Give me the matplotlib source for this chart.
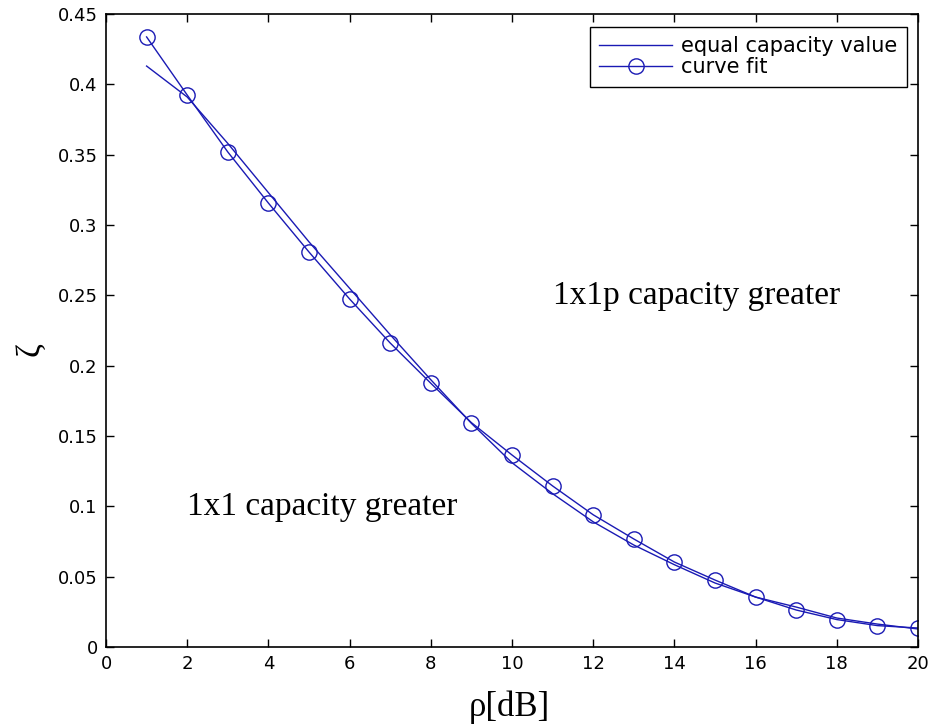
import numpy as np
import matplotlib
matplotlib.use("Agg")
import matplotlib.pyplot as plt

# SNR grid in dB
rho_db = np.arange(1, 21)

# threshold where both schemes give the same capacity
equal_capacity = [0.413, 0.391, 0.358, 0.323, 0.288, 0.255, 0.222, 0.190, 0.159, 0.131,
                  0.109, 0.089, 0.0725, 0.0585, 0.0455, 0.0355, 0.0284, 0.0206, 0.0163, 0.0128]

# polynomial fit of the threshold
curve_fit = [0.4337, 0.3924, 0.3519, 0.3156, 0.2808, 0.2474, 0.2161, 0.1875, 0.1595, 0.1365,
             0.1145, 0.0940, 0.0768, 0.0604, 0.0476, 0.0355, 0.0263, 0.0195, 0.0152, 0.0135]

blue = "#1a1ab4"

fig = plt.figure(figsize=(9.32, 7.27), dpi=100)
ax = fig.add_axes([106 / 932, 1 - 647 / 727, 812 / 932, 633 / 727])

ax.plot(rho_db, equal_capacity, color=blue, lw=1.0, label="equal capacity value")
ax.plot(rho_db, curve_fit, color=blue, lw=1.0, marker="o", ms=11, mfc="none",
        mec=blue, mew=1.0, label="curve fit")

ax.set_xlim(0, 20)
ax.set_ylim(0, 0.45)
ax.set_xticks(np.arange(0, 21, 2))
ax.set_yticks(np.arange(0, 0.451, 0.05))
ax.set_yticklabels(["0", "0.05", "0.1", "0.15", "0.2", "0.25", "0.3", "0.35", "0.4", "0.45"])

ax.tick_params(direction="in", length=6, width=1.0, top=True, right=True,
               labelsize=13, pad=6)
for s in ax.spines.values():
    s.set_linewidth(1.2)

ax.text(2, 0.1, "1x1 capacity greater", family="Liberation Serif", fontsize=24, va="center")
ax.text(11, 0.25, "1x1p capacity greater", family="Liberation Serif", fontsize=24, va="center")

ax.set_xlabel("ρ[dB]", family="Liberation Serif", fontsize=25)
ax.xaxis.set_label_coords(0.497, -0.068)
ax.set_ylabel("ζ", family="Liberation Serif", fontsize=24)
ax.yaxis.set_label_coords(-0.075, 0.47)

leg = ax.legend(loc="upper right", bbox_to_anchor=(0.9865, 0.9795), borderaxespad=0,
                fancybox=False, edgecolor="black", framealpha=1, fontsize=15,
                handlelength=3.5, borderpad=0.45, labelspacing=0.05, handletextpad=0.45)
leg.get_frame().set_linewidth(1.0)

fig.savefig("out.png", dpi=100)
